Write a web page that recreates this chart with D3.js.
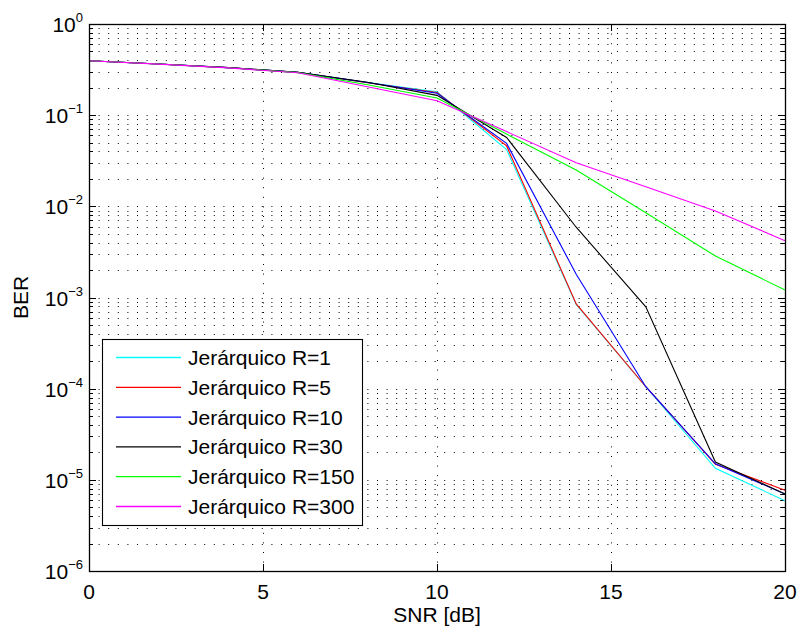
<!DOCTYPE html>
<html>
<head>
<meta charset="utf-8">
<script src="https://cdn.jsdelivr.net/npm/d3@7"></script>
<style>
  body { margin: 0; background: #fff; }
  text { font-family: "Liberation Sans", Arial, sans-serif; fill: #000; }
</style>
</head>
<body>
<svg id="chart" width="797" height="630"></svg>
<script>
// data
const snr = [0, 2, 4, 6, 8, 10, 12, 14, 16, 18, 20];
const serieNames = ['Jerárquico R=1', 'Jerárquico R=5', 'Jerárquico R=10', 'Jerárquico R=30', 'Jerárquico R=150', 'Jerárquico R=300'];
const berR1   = [0.396, 0.364, 0.332, 0.295, 0.228, 0.180, 0.042, 8.4e-4, 1.05e-4, 1.34e-5, 5.9e-6];
const berR5   = [0.396, 0.364, 0.332, 0.295, 0.227, 0.177, 0.046, 8.5e-4, 1.05e-4, 1.48e-5, 7.7e-6];
const berR10  = [0.396, 0.364, 0.332, 0.295, 0.228, 0.174, 0.049, 1.8e-3, 1.05e-4, 1.50e-5, 7.0e-6];
const berR30  = [0.396, 0.364, 0.332, 0.296, 0.230, 0.165, 0.057, 5.9e-3, 7.9e-4, 1.57e-5, 7.0e-6];
const berR150 = [0.396, 0.364, 0.331, 0.293, 0.216, 0.154, 0.062, 0.025, 8.5e-3, 2.85e-3, 1.21e-3];
const berR300 = [0.396, 0.363, 0.330, 0.292, 0.205, 0.144, 0.066, 0.030, 0.0164, 8.9e-3, 4.2e-3];
const colores = ['#00ffff', '#ff0000', '#0000ff', '#000000', '#00ff00', '#ff00ff'];
const xTicks = [0, 5, 10, 15, 20];
const yExps = [0, -1, -2, -3, -4, -5, -6];

const series = [berR1, berR5, berR10, berR30, berR150, berR300];

const pLeft = 89, pTop = 24, pRight = 785, pBottom = 571;
const svg = d3.select('#chart');
svg.append('rect').attr('width', 797).attr('height', 630).attr('fill', '#fff');

const x = d3.scaleLinear().domain([0, 20]).range([pLeft, pRight]);
const y = d3.scaleLog().domain([1e-6, 1]).range([pBottom, pTop]);

// grid
const grid = svg.append('g').attr('id', 'grid');
let yGrid = [];
for (let e = -6; e < 0; e++) {
    for (let m = 1; m <= 9; m++) yGrid.push(m * Math.pow(10, e));
}
grid.selectAll('line.h').data(yGrid.filter(v => v > 1e-6)).enter()
    .append('line')
    .attr('x1', pLeft).attr('x2', pRight)
    .attr('y1', d => Math.round(y(d)) + 0.5).attr('y2', d => Math.round(y(d)) + 0.5)
    .attr('stroke', '#000').attr('stroke-width', 1)
    .attr('stroke-dasharray', '1,8.6');
grid.selectAll('line.v').data(xTicks.slice(1, -1)).enter()
    .append('line')
    .attr('x1', d => Math.round(x(d)) + 0.5).attr('x2', d => Math.round(x(d)) + 0.5)
    .attr('y1', pTop).attr('y2', pBottom)
    .attr('stroke', '#000').attr('stroke-width', 1)
    .attr('stroke-dasharray', '1,8.6');

// ticks (inside, both sides)
const ticks = svg.append('g').attr('id', 'ticks').attr('stroke', '#000');
xTicks.forEach(t => {
    const px = Math.round(x(t)) + 0.5;
    ticks.append('line').attr('x1', px).attr('x2', px).attr('y1', pBottom).attr('y2', pBottom - 7);
    ticks.append('line').attr('x1', px).attr('x2', px).attr('y1', pTop).attr('y2', pTop + 7);
});
yGrid.forEach(v => {
    const py = Math.round(y(v)) + 0.5;
    const major = Math.abs(Math.log10(v) - Math.round(Math.log10(v))) < 1e-9;
    const len = major ? 7 : 4;
    ticks.append('line').attr('x1', pLeft).attr('x2', pLeft + len).attr('y1', py).attr('y2', py);
    ticks.append('line').attr('x1', pRight).attr('x2', pRight - len).attr('y1', py).attr('y2', py);
});

// curves
const line = d3.line().x((d, i) => x(snr[i])).y(d => y(d));
const curves = svg.append('g').attr('id', 'curves');
series.forEach((s, i) => {
    curves.append('path')
        .attr('d', line(s))
        .attr('fill', 'none')
        .attr('stroke', colores[i])
        .attr('stroke-width', 1.1);
});

// frame
svg.append('rect')
    .attr('x', pLeft + 0.5).attr('y', pTop + 0.5)
    .attr('width', pRight - pLeft).attr('height', pBottom - pTop)
    .attr('fill', 'none').attr('stroke', '#000').attr('stroke-width', 1.3);

// tick labels
const labels = svg.append('g').attr('id', 'labels');
xTicks.forEach(t => {
    labels.append('text')
        .attr('x', x(t)).attr('y', 599)
        .attr('text-anchor', 'middle')
        .style('font-size', '21px')
        .text(t);
});
yExps.forEach(e => {
    const tx = labels.append('text')
        .attr('x', 83).attr('y', y(Math.pow(10, e)) + 8)
        .attr('text-anchor', 'end')
        .style('font-size', '21px');
    tx.append('tspan').text('10');
    tx.append('tspan')
        .attr('dy', -10)
        .style('font-size', '13px')
        .text(e === 0 ? '0' : '\u2212' + (-e));
});

labels.append('text')
    .attr('x', (pLeft + pRight) / 2).attr('y', 622)
    .attr('text-anchor', 'middle')
    .style('font-size', '21px')
    .text('SNR [dB]');
labels.append('text')
    .attr('transform', 'translate(28,' + (pTop + pBottom) / 2 + ') rotate(-90)')
    .attr('text-anchor', 'middle')
    .style('font-size', '21px')
    .text('BER');

// legend
const legend = svg.append('g').attr('id', 'legend');
legend.append('rect')
    .attr('x', 102.5).attr('y', 339.5)
    .attr('width', 260).attr('height', 186)
    .attr('fill', '#fff').attr('stroke', '#000').attr('stroke-width', 1.1);
serieNames.forEach((n, i) => {
    const ly = 357.5 + i * 29.8;
    legend.append('line')
        .attr('x1', 116).attr('x2', 181)
        .attr('y1', ly).attr('y2', ly)
        .attr('stroke', colores[i]).attr('stroke-width', 1.3);
    legend.append('text')
        .attr('x', 188).attr('y', ly + 7.5)
        .style('font-size', '21px')
        .text(n);
});
</script>
</body>
</html>
